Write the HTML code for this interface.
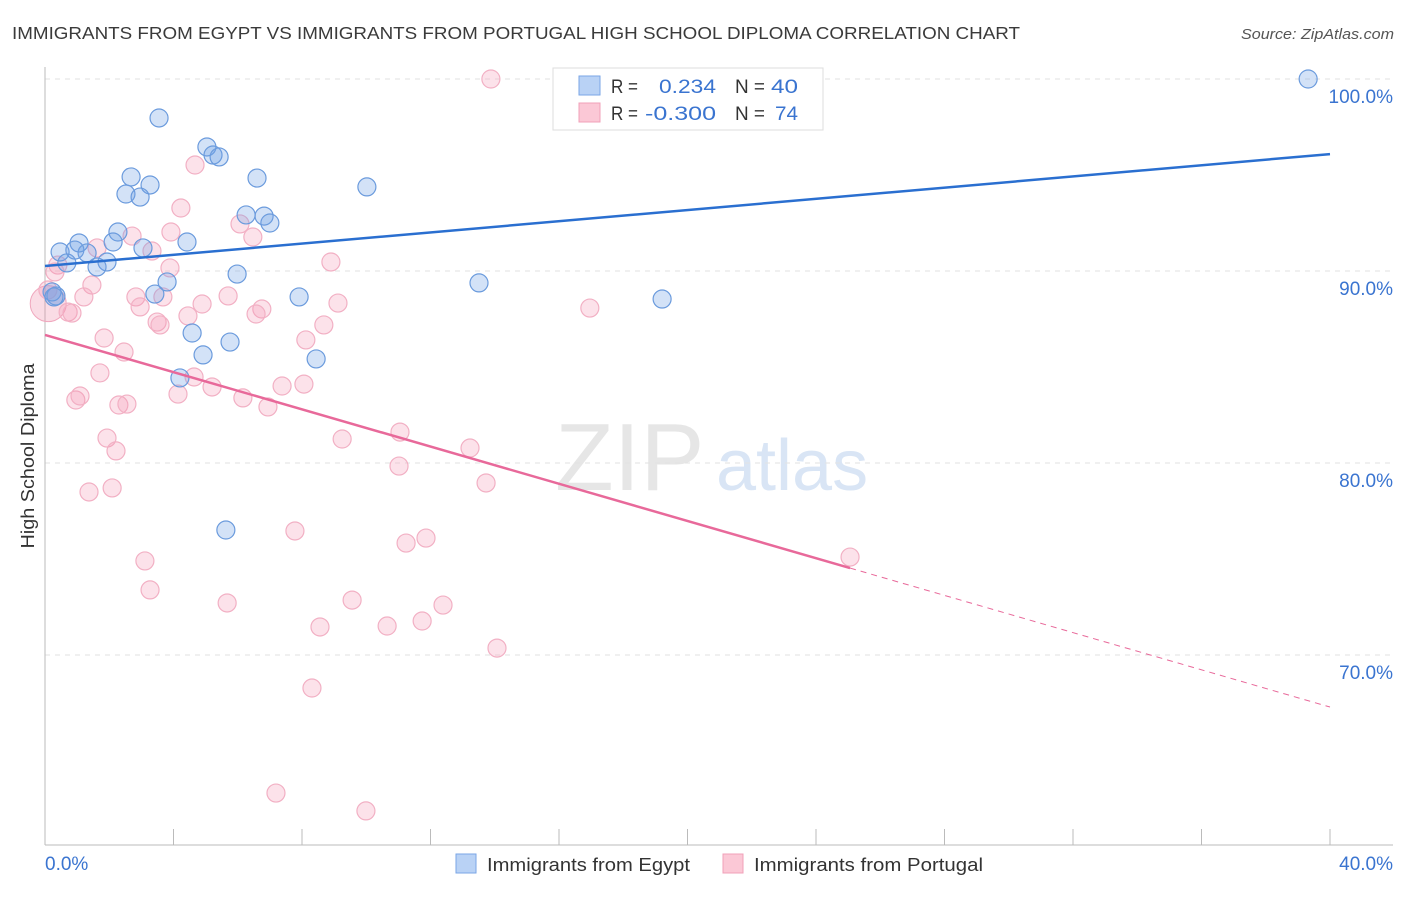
<!DOCTYPE html>
<html><head><meta charset="utf-8"><style>
body{margin:0;background:#fff;font-family:"Liberation Sans",sans-serif;}
svg text{font-family:"Liberation Sans",sans-serif;}
</style></head><body>
<svg id="chart" width="1406" height="892" xmlns="http://www.w3.org/2000/svg">
<text x="12" y="39" font-size="17.5" fill="#3a3a3a" textLength="1008" lengthAdjust="spacingAndGlyphs">IMMIGRANTS FROM EGYPT VS IMMIGRANTS FROM PORTUGAL HIGH SCHOOL DIPLOMA CORRELATION CHART</text>
<text x="1241" y="39" font-size="15" fill="#555" font-style="italic" textLength="153" lengthAdjust="spacingAndGlyphs">Source: ZipAtlas.com</text>
<g>
<text x="555" y="490" font-size="96" fill="#e6e6e6" font-family="Liberation Serif,serif">ZIP</text>
<text x="716" y="490" font-size="72" fill="#d9e5f5">atlas</text>
</g>
<g id="grid"></g>
<g id="axes"></g>
<g id="pts"></g>
<g id="lines"></g>
<text transform="translate(34,456) rotate(-90)" font-size="18" fill="#333" text-anchor="middle" textLength="185" lengthAdjust="spacingAndGlyphs">High School Diploma</text>
<g>
<rect x="553" y="68" width="270" height="62" fill="#fff" stroke="#ddd"/>
<rect x="579" y="76" width="21" height="19" fill="#b9d2f5" stroke="#7aa6e6"/>
<rect x="579" y="103" width="21" height="19" fill="#fbc8d6" stroke="#f0a0b8"/>
<text x="611" y="93" font-size="19" fill="#333" textLength="27" lengthAdjust="spacingAndGlyphs">R =</text>
<text x="659" y="93" font-size="19" fill="#3a74d0" textLength="57" lengthAdjust="spacingAndGlyphs">0.234</text>
<text x="735" y="93" font-size="19" fill="#333" textLength="30" lengthAdjust="spacingAndGlyphs">N =</text>
<text x="771" y="93" font-size="19" fill="#3a74d0" textLength="27" lengthAdjust="spacingAndGlyphs">40</text>
<text x="611" y="120" font-size="19" fill="#333" textLength="27" lengthAdjust="spacingAndGlyphs">R =</text>
<text x="645" y="120" font-size="19" fill="#3a74d0" textLength="71" lengthAdjust="spacingAndGlyphs">-0.300</text>
<text x="735" y="120" font-size="19" fill="#333" textLength="30" lengthAdjust="spacingAndGlyphs">N =</text>
<text x="775" y="120" font-size="19" fill="#3a74d0" textLength="23" lengthAdjust="spacingAndGlyphs">74</text>
</g>
<g>
<rect x="456" y="854" width="20" height="19" fill="#b9d2f5" stroke="#7aa6e6"/>
<text x="487" y="871" font-size="18.5" fill="#333" textLength="203" lengthAdjust="spacingAndGlyphs">Immigrants from Egypt</text>
<rect x="723" y="854" width="20" height="19" fill="#fbc8d6" stroke="#f0a0b8"/>
<text x="754" y="871" font-size="18.5" fill="#333" textLength="229" lengthAdjust="spacingAndGlyphs">Immigrants from Portugal</text>
</g>
</svg>
<script>
const egyptX=[3.55,5.04,5.23,5.42,2.68,6.60,3.27,2.52,2.96,10.02,6.26,6.82,7.00,2.27,1.06,2.12,0.47,0.93,1.31,3.05,4.42,1.93,0.68,1.62,5.98,3.80,13.51,3.42,7.91,19.21,0.34,0.22,4.58,5.76,4.92,8.44,4.20,5.63,39.32,0.28];
const egyptY=[97.97,96.46,96.04,95.94,94.90,94.84,94.48,94.01,93.85,94.38,92.92,92.86,92.50,92.03,91.46,91.51,90.99,91.09,90.94,91.20,91.51,90.47,90.42,90.21,89.84,89.43,89.38,88.80,88.65,88.54,88.70,88.91,86.77,86.30,85.63,85.42,84.43,76.51,100,88.65];
const portX=[13.88,16.59,4.67,4.23,6.07,2.71,6.47,3.92,3.33,1.62,3.89,8.90,0.40,1.46,2.83,3.67,4.89,5.70,2.96,4.45,6.75,6.57,9.12,16.96,0.72,0.84,1.21,3.49,3.58,8.68,8.12,1.84,2.46,1.71,4.64,4.14,5.20,7.38,8.06,0.96,1.09,6.16,2.30,2.55,6.94,11.05,1.93,9.25,13.23,2.21,11.02,13.73,1.37,2.09,7.78,11.24,11.86,3.11,25.06,3.27,5.67,9.56,12.39,8.56,10.65,11.74,14.07,8.31,7.19,9.99,0.31,0.09];
const portY=[100,100,95.52,93.28,92.45,91.82,91.77,92.03,91.04,91.20,90.16,90.47,90.31,89.27,88.65,88.65,88.28,88.70,88.13,87.66,88.02,87.76,88.33,88.07,87.86,87.81,88.65,87.34,87.19,87.19,86.41,86.51,85.78,84.69,84.48,83.59,83.96,84.01,84.11,83.28,83.49,83.39,83.02,83.07,82.92,81.61,81.30,81.25,80.78,80.63,79.84,78.96,78.49,78.70,76.46,75.83,76.09,74.90,75.10,73.39,72.71,72.86,72.60,71.46,71.51,71.77,70.36,68.28,62.81,61.88,89.95,89.01];
const yTicks=[100,90,80,70];
const yTickLabels=["100.0%","90.0%","80.0%","70.0%"];
const xTicks=[0,4,8,12,16,20,24,28,32,36,40];
const blueTrend=[90.26,96.09];
const pinkTrend=[86.67,67.29];
const pinkSolidEnd=25.06;

const NS="http://www.w3.org/2000/svg";
function sx(v){return 45+v/40*1285;}
function sy(v){return 79+(100-v)*19.2;}
function mk(tag,attrs,parent){const e=document.createElementNS(NS,tag);for(const k in attrs)e.setAttribute(k,attrs[k]);parent.appendChild(e);return e;}
const grid=document.getElementById('grid'),axes=document.getElementById('axes'),pts=document.getElementById('pts'),lines=document.getElementById('lines');
yTicks.forEach((t,i)=>{
  const l=mk('line',{x1:45,x2:1393,y1:sy(t),y2:sy(t),stroke:'#e2e2e2','stroke-dasharray':'5,5'},grid);
  
  
  const tx=mk('text',{x:1393,y:sy(t)+24,'font-size':19,fill:'#3a74d0','text-anchor':'end'},axes);
  tx.textContent=yTickLabels[i];
  
  
});
const ya=mk('line',{x1:45,x2:45,y1:67,y2:845,stroke:'#bbb'},axes);


const xa=mk('line',{x1:45,x2:1393,y1:845,y2:845,stroke:'#bbb'},axes);


xTicks.forEach(t=>{
  const l=mk('line',{x1:sx(t),x2:sx(t),y1:829,y2:845,stroke:'#bbb'},axes);
  
  
});
const x0=mk('text',{x:45,y:870,'font-size':19,fill:'#3a74d0'},axes);x0.textContent='0.0%';


const x1=mk('text',{x:1393,y:870,'font-size':19,fill:'#3a74d0','text-anchor':'end'},axes);x1.textContent='40.0%';



const big1=mk('circle',{cx:sx(0.1),cy:sy(88.3),r:18,fill:'rgba(240,140,170,0.3)',stroke:'#f0a8be'},pts);


portX.forEach((x,i)=>{
  const c=mk('circle',{cx:sx(x),cy:sy(portY[i]),r:9,fill:'rgba(244,150,178,0.28)',stroke:'#f2b0c4','stroke-width':1.2},pts);
  
  
});
egyptX.forEach((x,i)=>{
  const c=mk('circle',{cx:sx(x),cy:sy(egyptY[i]),r:9,fill:'rgba(110,160,230,0.3)',stroke:'#6b9bdd','stroke-width':1.2},pts);
  
  
});
const bl=mk('line',{x1:sx(0),y1:sy(blueTrend[0]),x2:sx(40),y2:sy(blueTrend[1]),stroke:'#2a6fd0','stroke-width':2.5},lines);


const pAt=x=>pinkTrend[0]+(pinkTrend[1]-pinkTrend[0])*x/40;
const pl=mk('line',{x1:sx(0),y1:sy(pinkTrend[0]),x2:sx(pinkSolidEnd),y2:sy(pAt(pinkSolidEnd)),stroke:'#e8699a','stroke-width':2.5},lines);


const pd=mk('line',{x1:sx(pinkSolidEnd),y1:sy(pAt(pinkSolidEnd)),x2:sx(40),y2:sy(pinkTrend[1]),stroke:'#e8699a','stroke-width':1,'stroke-dasharray':'6,5'},lines);


</script>
</body></html>
